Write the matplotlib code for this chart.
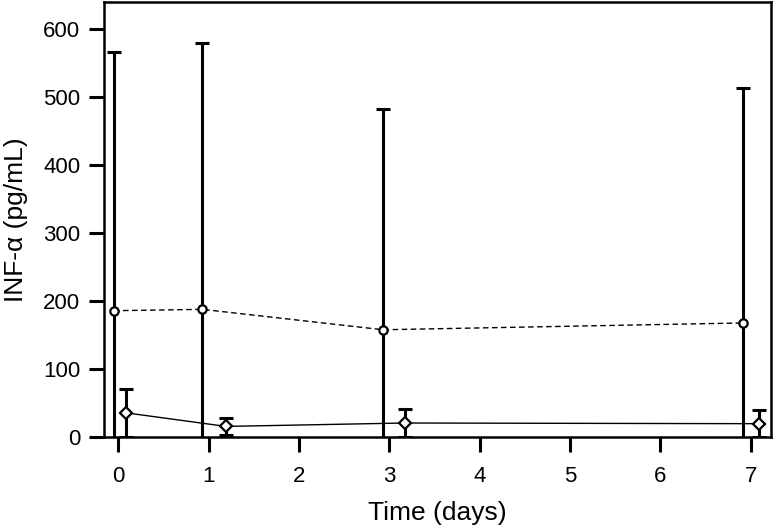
import matplotlib
matplotlib.use("Agg")
import matplotlib.pyplot as plt

plt.rcParams['font.family'] = ['Liberation Sans', 'DejaVu Sans']

# series plotted with a small horizontal offset in the source figure
time_a = [-0.05, 0.93, 2.93, 6.91]
mean_a = [186, 188, 158, 168]
err_a = [380, 392, 324, 345]

time_b = [0.08, 1.19, 3.17, 7.09]
mean_b = [36, 16, 21, 20]
err_b = [35, 13, 21, 20]

xticks = [0, 1, 2, 3, 4, 5, 6, 7]
yticks = [0, 100, 200, 300, 400, 500, 600]

fig = plt.figure(figsize=(7.74, 5.27), dpi=100)
ax = fig.add_axes([0.1344, 0.1702, 0.8617, 0.8266])

ax.errorbar(time_a, mean_a, yerr=err_a, fmt='none', ecolor='black',
            elinewidth=2.2, capsize=5, capthick=2.2, zorder=2)
ax.plot(time_a, mean_a, '--', color='black', lw=1.0, dashes=(4, 2.5),
        marker='o', ms=6, mfc='white', mec='black', mew=1.6, zorder=3)

ax.errorbar(time_b, mean_b, yerr=err_b, fmt='none', ecolor='black',
            elinewidth=2.2, capsize=5, capthick=2.2, zorder=2)
ax.plot(time_b, mean_b, '-', color='black', lw=1.0,
        marker='D', ms=6, mfc='white', mec='black', mew=1.6, zorder=3)

ax.set_xlim(-0.16, 7.225)
ax.set_ylim(0, 640)
ax.set_xticks(xticks)
ax.set_yticks(yticks)
ax.tick_params(axis='both', direction='out', length=11, width=2.2,
               labelsize=16)
ax.tick_params(axis='x', pad=10)
ax.tick_params(axis='y', pad=6)

for s in ax.spines.values():
    s.set_linewidth(1.8)

ax.set_xlabel('Time (days)', fontsize=19, labelpad=10)
ax.set_ylabel('INF-α (pg/mL)', fontsize=19, labelpad=11)

fig.savefig('out.png', dpi=100)
